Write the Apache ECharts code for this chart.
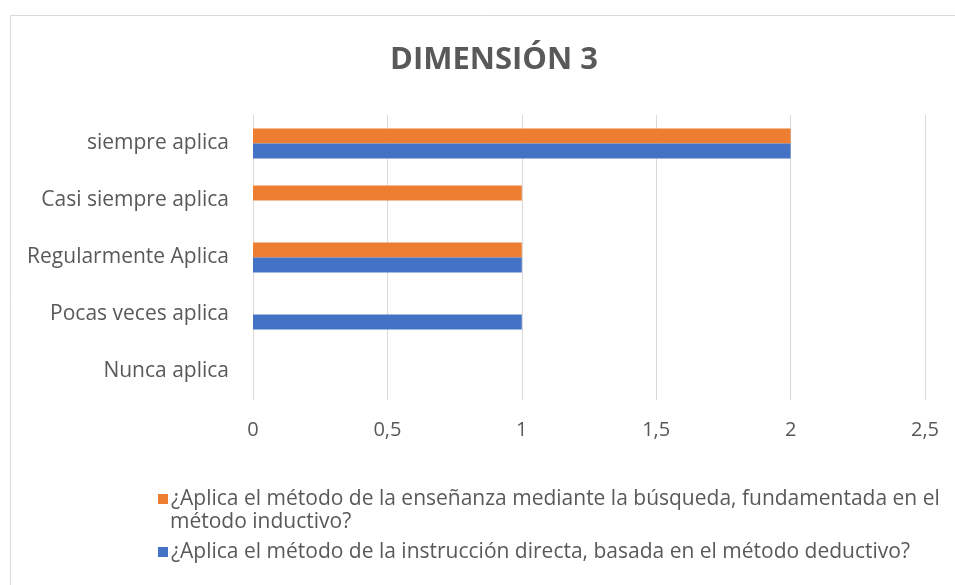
<!DOCTYPE html>
<html>
<head>
<meta charset="utf-8">
<script src="https://cdn.jsdelivr.net/npm/echarts@6/dist/echarts.min.js"></script>
<style>
  html, body { margin: 0; padding: 0; background: #fff; }
  #chart { width: 955px; height: 585px; }
</style>
</head>
<body>
<div id="chart"></div>
<script>
  // categories from bottom to top
  var categories = ['Nunca aplica', 'Pocas veces aplica', 'Regularmente Aplica', 'Casi siempre aplica', 'siempre aplica'];
  var inductivo = [0, 0, 1, 1, 2];
  var deductivo = [0, 1, 1, 0, 2];
  var nameInductivo = '¿Aplica el método de la enseñanza mediante la búsqueda, fundamentada en el';
  var nameInductivo2 = 'método inductivo?';
  var nameDeductivo = '¿Aplica el método de la instrucción directa, basada en el método deductivo?';

  var font = '"Open Sans", Lato, sans-serif';
  var chart = echarts.init(document.getElementById('chart'));

  chart.setOption({
    backgroundColor: '#FFFFFF',
    animation: false,
    textStyle: { fontFamily: font },
    graphic: [
      {
        type: 'rect',
        shape: { x: 10.5, y: 15.5, width: 960, height: 600 },
        style: { fill: 'none', stroke: '#D9D9D9', lineWidth: 1 }
      },
      {
        // second line of the orange legend entry
        type: 'text',
        left: 170,
        top: 512,
        style: { text: nameInductivo2, fontSize: 21, fill: '#595959', fontFamily: font }
      }
    ],
    title: {
      text: 'DIMENSIÓN 3',
      left: 489,
      top: 40,
      textAlign: 'center',
      textStyle: { fontSize: 31, fontWeight: 'bold', color: '#595959', fontFamily: font }
    },
    grid: { left: 253, right: 30, top: 115, bottom: 185 },
    legend: {
      orient: 'vertical',
      left: 153,
      top: 481,
      itemWidth: 10,
      itemHeight: 10,
      itemGap: 27,
      icon: 'rect',
      data: [nameInductivo, nameDeductivo],
      textStyle: { fontSize: 21, color: '#595959', lineHeight: 26, fontFamily: font, padding: [0, 0, 0, -2] }
    },
    xAxis: {
      type: 'value',
      min: 0,
      max: 2.5,
      interval: 0.5,
      axisLine: { show: false },
      axisTick: { show: false },
      splitLine: { lineStyle: { color: '#D9D9D9' } },
      axisLabel: {
        fontSize: 20,
        color: '#595959',
        margin: 20,
        formatter: function (v) { return String(v).replace('.', ','); }
      }
    },
    yAxis: {
      type: 'category',
      data: categories,
      axisLine: { show: false },
      axisTick: { show: false },
      axisLabel: { fontSize: 21, color: '#595959', margin: 24 }
    },
    series: [
      {
        name: nameInductivo,
        type: 'bar',
        data: inductivo,
        itemStyle: { color: '#ED7D31' },
        barGap: '0%',
        barCategoryGap: '47%'
      },
      {
        name: nameDeductivo,
        type: 'bar',
        data: deductivo,
        itemStyle: { color: '#4472C4' },
        barGap: '0%',
        barCategoryGap: '47%'
      }
    ]
  });
</script>
</body>
</html>
